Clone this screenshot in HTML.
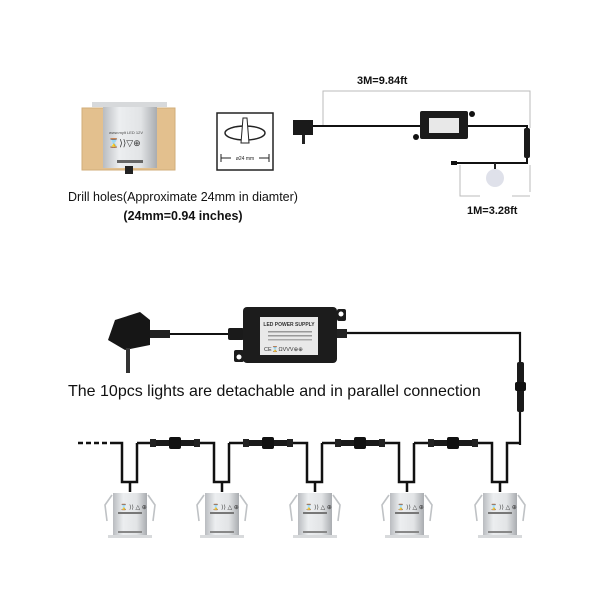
<!DOCTYPE html>
<html><head><meta charset="utf-8"><style>
html,body{margin:0;padding:0;background:#fff;}
svg{display:block;}
text{font-family:"Liberation Sans",sans-serif;}
</style></head><body>
<svg width="600" height="600" viewBox="0 0 600 600" xmlns="http://www.w3.org/2000/svg">
<defs>
<linearGradient id="met" x1="0" x2="1">
<stop offset="0" stop-color="#b9bcc0"/><stop offset="0.3" stop-color="#eceef0"/><stop offset="0.7" stop-color="#e2e4e6"/><stop offset="1" stop-color="#a9acb0"/>
</linearGradient>
<g id="light">
<path d="M-18,14 L-25,24 L-23,40" fill="none" stroke="#bfc2c5" stroke-width="1.6"/>
<path d="M18,14 L25,24 L23,40" fill="none" stroke="#bfc2c5" stroke-width="1.6"/>
<rect x="-17" y="12" width="34" height="44" fill="url(#met)"/>
<rect x="-22" y="54" width="44" height="3" fill="#d8dadc"/>
<text x="-10" y="28" font-size="6" fill="#333">⌛ ⟩⟩ △ ⊕</text>
<rect x="-12" y="31" width="24" height="2" fill="#777"/>
<rect x="-12" y="50" width="24" height="2" fill="#888"/>
</g>
<g id="conn">
<rect x="-25" y="-3" width="50" height="6" rx="2" fill="#1a1a1a"/>
<rect x="-6" y="-6" width="12" height="12" rx="2" fill="#111"/>
<rect x="-25" y="-4" width="6" height="8" fill="#222"/>
<rect x="19" y="-4" width="6" height="8" fill="#222"/>
</g>
</defs>

<!-- top left: wood with light -->
<rect x="82" y="108" width="93" height="62" fill="#e3c08e"/>
<rect x="82" y="108" width="93" height="62" fill="none" stroke="#d2ae7a"/>
<rect x="103" y="106" width="54" height="62" fill="url(#met)"/>
<rect x="92" y="102" width="75" height="5" fill="#d7d9db"/>
<text x="109" y="134" font-size="4" fill="#444">www.mylt LED 12V</text>
<text x="108" y="146" font-size="9" fill="#333">⌛⟩⟩▽⊕</text>
<rect x="117" y="160" width="26" height="3" fill="#666"/>
<rect x="125" y="166" width="8" height="8" fill="#222"/>

<!-- drill icon -->
<rect x="217" y="113" width="56" height="57" fill="#fff" stroke="#222" stroke-width="1.5"/>
<ellipse cx="245" cy="133" rx="20" ry="7" fill="none" stroke="#222" stroke-width="1.5"/>
<path d="M243,118 L241,143 L249,143 L247,118 Z" fill="#fff" stroke="#222" stroke-width="1"/>
<path d="M221,154 v8 M221,158 h10 M259,158 h10 M269,154 v8" stroke="#222" stroke-width="1"/>
<text x="245" y="160" font-size="5" text-anchor="middle" fill="#222">ø24 mm</text>

<text x="183" y="201" font-size="12.5" text-anchor="middle" fill="#111">Drill holes(Approximate 24mm in diamter)</text>
<text x="183" y="220" font-size="12.5" font-weight="bold" text-anchor="middle" fill="#111">(24mm=0.94 inches)</text>

<!-- top right small diagram -->
<path d="M323,126 V91 H530 V128" fill="none" stroke="#bbb" stroke-width="1"/>
<text x="357" y="84" font-size="11" font-weight="bold" fill="#111">3M=9.84ft</text>
<rect x="293" y="120" width="20" height="15" fill="#1a1a1a"/>
<rect x="302" y="135" width="3" height="9" fill="#222"/>
<path d="M313,126 H420 M467,126 H527 V163 H452" fill="none" stroke="#111" stroke-width="2"/>
<rect x="420" y="111" width="48" height="28" rx="2" fill="#1b1b1b"/>
<rect x="429" y="118" width="30" height="15" fill="#e8e8e8"/>
<circle cx="472" cy="114" r="3" fill="#111"/>
<circle cx="416" cy="137" r="3" fill="#111"/>
<rect x="524" y="128" width="6" height="30" rx="2" fill="#1a1a1a"/>
<rect x="451" y="161" width="6" height="4" fill="#111"/>
<rect x="494" y="163" width="2" height="6" fill="#222"/>
<ellipse cx="495" cy="178" rx="9" ry="9" fill="#dfe1ea"/>
<path d="M460,165 V196 H530 V165" fill="none" stroke="#bbb" stroke-width="1"/>
<rect x="462" y="192" width="70" height="8" fill="#fff"/>
<path d="M460,196 H480 M512,196 H530" stroke="#bbb"/>
<text x="467" y="214" font-size="11" font-weight="bold" fill="#111">1M=3.28ft</text>

<!-- bottom power supply -->
<path d="M115,320 L140,312 L150,320 L150,345 L125,350 L108,340 Z" fill="#161616"/>
<rect x="126" y="348" width="4" height="25" fill="#333"/>
<rect x="150" y="330" width="20" height="8" fill="#222"/>
<path d="M170,334 H230" stroke="#111" stroke-width="2"/>
<rect x="228" y="328" width="16" height="12" rx="2" fill="#1a1a1a"/>
<rect x="243" y="307" width="94" height="56" rx="4" fill="#1c1c1c"/>
<rect x="337" y="309" width="9" height="12" rx="2" fill="#1c1c1c"/>
<circle cx="341" cy="314" r="2.5" fill="#fff"/>
<rect x="234" y="350" width="10" height="12" rx="2" fill="#1c1c1c"/>
<circle cx="239" cy="357" r="2.5" fill="#fff"/>
<rect x="260" y="317" width="58" height="38" fill="#e9e9e9"/>
<text x="289" y="326" font-size="5" font-weight="bold" text-anchor="middle" fill="#333">LED POWER SUPPLY</text>
<rect x="268" y="331" width="44" height="1.5" fill="#999"/>
<rect x="268" y="335" width="44" height="1.5" fill="#999"/>
<rect x="268" y="339" width="44" height="1.5" fill="#aaa"/>
<text x="264" y="351" font-size="5.5" fill="#333">CE⌛ΩVVV⊕⊕</text>
<rect x="337" y="329" width="10" height="9" fill="#222"/>
<path d="M347,333 H520 V445" fill="none" stroke="#111" stroke-width="2.2"/>
<rect x="517" y="362" width="7" height="50" rx="2" fill="#1a1a1a"/>
<rect x="515" y="382" width="11" height="9" rx="2" fill="#111"/>

<text x="68" y="396" font-size="16" fill="#111">The 10pcs lights are detachable and in parallel connection</text>

<!-- chain -->
<path d="M78,443 H115" stroke="#111" stroke-width="2.5" stroke-dasharray="5,3"/>
<g fill="none" stroke="#111" stroke-width="2.5">
<path d="M115,443 H122 V482 H137 V443"/>
<path d="M137,443 H214 V482 H229 V443"/>
<path d="M229,443 H307 V482 H322 V443"/>
<path d="M322,443 H399 V482 H414 V443"/>
<path d="M414,443 H492 V482 H507 V443 H520"/>
<path d="M130,482 V492 M222,482 V492 M315,482 V492 M407,482 V492 M500,482 V492"/>
</g>
<use href="#conn" x="175" y="443"/>
<use href="#conn" x="268" y="443"/>
<use href="#conn" x="360" y="443"/>
<use href="#conn" x="453" y="443"/>
<use href="#light" x="130" y="481"/>
<use href="#light" x="222" y="481"/>
<use href="#light" x="315" y="481"/>
<use href="#light" x="407" y="481"/>
<use href="#light" x="500" y="481"/>
</svg>
</body></html>
